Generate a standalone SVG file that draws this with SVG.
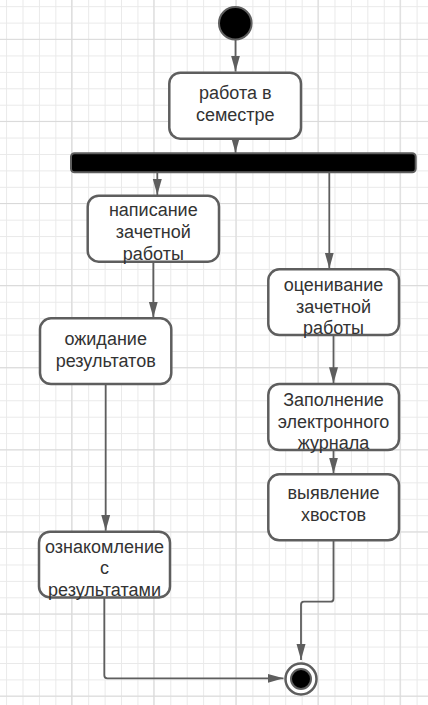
<svg xmlns="http://www.w3.org/2000/svg" width="428" height="705" viewBox="0 0 428 705">
  <defs>
    <pattern id="gridMinor" patternUnits="userSpaceOnUse" x="6.1" y="6.2" width="16.42" height="16.42">
      <path d="M0.5 0 V16.42 M0 0.5 H16.42" stroke="#e9e9e9" stroke-width="1" fill="none"/>
    </pattern>
    <pattern id="gridMajor" patternUnits="userSpaceOnUse" x="71.2" y="38.8" width="82.1" height="82.1">
      <path d="M0.5 0 V82.1 M0 0.5 H82.1" stroke="#d9d9d9" stroke-width="1" fill="none"/>
    </pattern>
    <marker id="arrowLong" viewBox="0 0 16 10" refX="16" refY="5" markerWidth="16" markerHeight="10" markerUnits="userSpaceOnUse" orient="auto">
      <path d="M0 0.5 L16 5 L0 9.5 Z" fill="#5e5e5e"/>
    </marker>
  </defs>
  <style>
    .node rect { fill: #ffffff; stroke: #5e5e5e; stroke-width: 2.5; }
    .node text { font-family: "Liberation Sans", Arial, sans-serif; font-size: 18px; fill: #333333; text-anchor: middle; }
    .edge { fill: none; stroke: #5e5e5e; stroke-width: 1.8; }
  </style>

  <!-- background grid -->
  <rect width="428" height="705" fill="#ffffff"/>
  <rect width="428" height="705" fill="url(#gridMinor)"/>
  <rect width="428" height="705" fill="url(#gridMajor)"/>

  <!-- connectors -->
  <g id="edges">
    <path class="edge" d="M235.5 40 V71.5" marker-end="url(#arrowLong)"/>
    <path class="edge" d="M235.5 138.7 V152.8" marker-end="url(#arrowLong)"/>
    <path class="edge" d="M157.3 172.5 V195" marker-end="url(#arrowLong)"/>
    <path class="edge" d="M329.3 172.5 V268.5" marker-end="url(#arrowLong)"/>
    <path class="edge" d="M153.3 262 V317.5" marker-end="url(#arrowLong)"/>
    <path class="edge" d="M105.7 384.5 V530.8" marker-end="url(#arrowLong)"/>
    <path class="edge" d="M333.5 335.5 V383.2" marker-end="url(#arrowLong)"/>
    <path class="edge" d="M333.5 450.5 V473.5" marker-end="url(#arrowLong)"/>
    <path class="edge" d="M333.5 540.8 V598.7 Q333.5 601.7 330.5 601.7 H304 Q301 601.7 301 604.7 V660" marker-end="url(#arrowLong)"/>
    <path class="edge" d="M104.3 597.5 V675.3 Q104.3 678.3 107.3 678.3 H283.5" marker-end="url(#arrowLong)"/>
  </g>

  <!-- initial state -->
  <g id="start">
    <circle cx="235.3" cy="23.3" r="16.3" fill="#000000" stroke="#5e5e5e" stroke-width="2"/>
  </g>

  <g id="work" class="node">
    <rect x="169.3" y="72.7" width="131.7" height="66" rx="11"/>
    <text x="235.3" y="99">работа в</text>
    <text x="235.3" y="120.7">семестре</text>
  </g>

  <!-- fork bar -->
  <g id="fork">
    <rect x="71" y="153.3" width="344.7" height="19" rx="3.5" fill="#000000" stroke="#5e5e5e" stroke-width="2"/>
  </g>

  <g id="writing" class="node">
    <rect x="87.7" y="195.7" width="131.3" height="66" rx="11"/>
    <text x="153.3" y="216.3">написание</text>
    <text x="153.3" y="238">зачетной</text>
    <text x="153.3" y="259.7">работы</text>
  </g>

  <g id="waiting" class="node">
    <rect x="40" y="318.3" width="131.3" height="65.7" rx="11"/>
    <text x="105.7" y="345">ожидание</text>
    <text x="105.7" y="366.7">результатов</text>
  </g>

  <g id="review" class="node">
    <rect x="39" y="531.7" width="131" height="65.7" rx="11"/>
    <text x="104.5" y="552.7">ознакомление</text>
    <text x="104.5" y="574.3">с</text>
    <text x="104.5" y="596">результатами</text>
  </g>

  <g id="grading" class="node">
    <rect x="268.3" y="269.3" width="130.7" height="65.7" rx="11"/>
    <text x="333.5" y="291">оценивание</text>
    <text x="333.5" y="312.7">зачетной</text>
    <text x="333.5" y="334.3">работы</text>
  </g>

  <g id="journal" class="node">
    <rect x="268.3" y="384" width="130.7" height="66" rx="11"/>
    <text x="333.5" y="406">Заполнение</text>
    <text x="333.5" y="427.7">электронного</text>
    <text x="333.5" y="449.3">журнала</text>
  </g>

  <g id="debts" class="node">
    <rect x="268.3" y="474.3" width="130.7" height="66" rx="11"/>
    <text x="333.5" y="499.3">выявление</text>
    <text x="333.5" y="521">хвостов</text>
  </g>

  <!-- final state -->
  <g id="end">
    <circle cx="301" cy="679" r="15.5" fill="#ffffff" stroke="#5e5e5e" stroke-width="2.5"/>
    <circle cx="301" cy="679" r="10" fill="#000000" stroke="#5e5e5e" stroke-width="2"/>
  </g>
</svg>
